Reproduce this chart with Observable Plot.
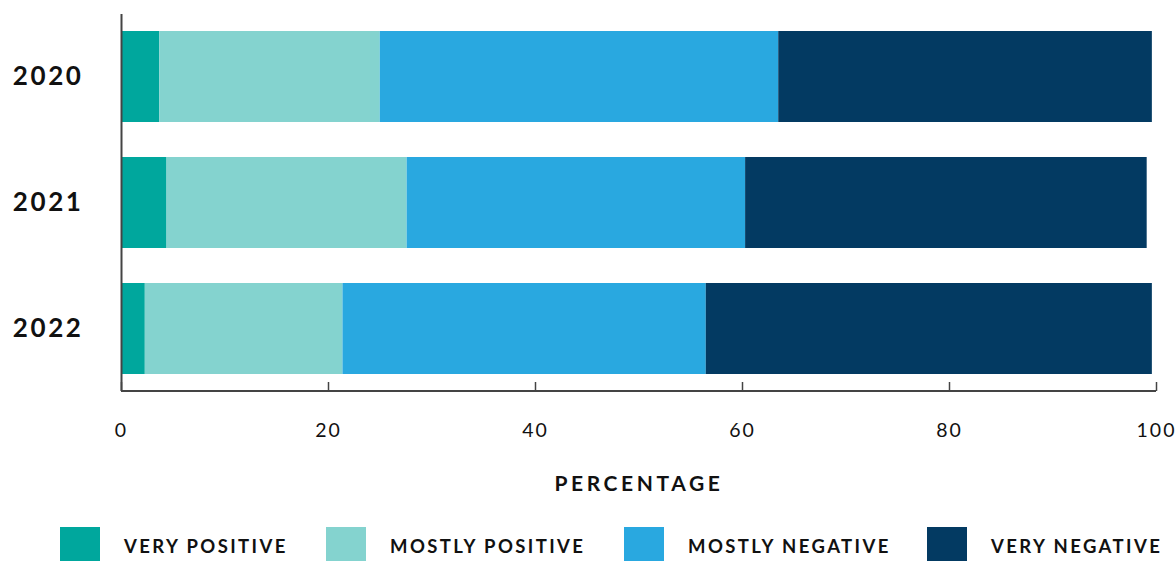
<!DOCTYPE html>
<html>
<head>
<meta charset="utf-8">
<script src="https://cdn.jsdelivr.net/npm/d3@7"></script>
<script src="https://cdn.jsdelivr.net/npm/@observablehq/plot@0.6"></script>
<style>
  html, body { margin: 0; padding: 0; background: #fff; }
  #chart { position: relative; width: 1175px; height: 561px; overflow: hidden; font-family: Lato, "Open Sans", sans-serif; }
  #chart svg { display: block; }
  g[aria-label="y-axis tick label"] text { font: 700 26px Lato, sans-serif; letter-spacing: 2.6px; fill: #111; }
  g[aria-label="x-axis tick label"] text { font: 400 19.5px Lato, sans-serif; letter-spacing: 2px; fill: #111; }
  g[aria-label="x-axis label"] text { font: 700 21px Lato, sans-serif; letter-spacing: 3.6px; fill: #111; }
  .legend { position: absolute; top: 528px; left: 0; width: 1175px; height: 40px; }
  .legend .item { position: absolute; top: -2px; display: flex; align-items: center; height: 40px; }
  .legend .sw { width: 40px; height: 40px; margin-top: 2px; margin-right: 24px; }
  .legend .lbl { font: 700 18.5px Lato, sans-serif; letter-spacing: 2.4px; color: #111; white-space: nowrap; }
</style>
</head>
<body>
<div id="chart"></div>
<script>
// Survey responses by year, in percent
const years = ["2020", "2021", "2022"];
const categories = ["VERY POSITIVE", "MOSTLY POSITIVE", "MOSTLY NEGATIVE", "VERY NEGATIVE"];
const veryPositive   = [3.7, 4.4, 2.3];
const mostlyPositive = [21.3, 23.2, 19.1];
const mostlyNegative = [38.5, 32.7, 35.1];
const veryNegative   = [36.1, 38.8, 43.1];
const colors = ["#00a79d", "#84d3cf", "#29a8e0", "#033a62"];
const xTicks = [0, 20, 40, 60, 80, 100];

const series = [veryPositive, mostlyPositive, mostlyNegative, veryNegative];
const rows = [];
years.forEach((year, i) => {
  categories.forEach((category, j) => {
    rows.push({year, category, value: series[j][i]});
  });
});

const W = 1175, H = 510;
const mTop = 14, mBottom = H - 391, mLeft = 121, mRight = 19;

const chart = Plot.plot({
  width: W,
  height: H,
  marginTop: mTop,
  marginBottom: mBottom,
  marginLeft: mLeft,
  marginRight: mRight,
  x: {domain: [0, 100]},
  y: {domain: years, paddingInner: 0.278, paddingOuter: 0.135},
  color: {domain: categories, range: colors},
  marks: [
    Plot.barX(rows, Plot.stackX({x: "value", y: "year", fill: "category", order: categories})),
    Plot.ruleX([0], {stroke: "#444", strokeWidth: 2}),
    Plot.axisY({tickSize: 0, tickPadding: 38, label: null}),
    Plot.axisX(xTicks, {tickSize: -9, stroke: "#444", strokeWidth: 1.5, text: null, label: null}),
    Plot.axisX(xTicks, {tickSize: 0, tickPadding: 32, label: "PERCENTAGE", labelArrow: "none", labelAnchor: "center", labelOffset: 99})
  ]
});

// baseline along the bottom of the x range
const xs = chart.scale("x");
d3.select(chart).append("line")
  .attr("x1", xs.apply(0)).attr("x2", xs.apply(100))
  .attr("y1", H - mBottom).attr("y2", H - mBottom)
  .attr("stroke", "#444").attr("stroke-width", 2);

const root = document.getElementById("chart");
root.appendChild(chart);

// legend below the chart
const legend = document.createElement("div");
legend.className = "legend";
const itemLeft = [60, 326, 624, 927];
categories.forEach((c, i) => {
  const item = document.createElement("div");
  item.className = "item";
  item.style.left = itemLeft[i] + "px";
  const sw = document.createElement("div");
  sw.className = "sw";
  sw.style.background = colors[i];
  const lbl = document.createElement("span");
  lbl.className = "lbl";
  lbl.textContent = c;
  item.appendChild(sw);
  item.appendChild(lbl);
  legend.appendChild(item);
});
root.appendChild(legend);
</script>
</body>
</html>
